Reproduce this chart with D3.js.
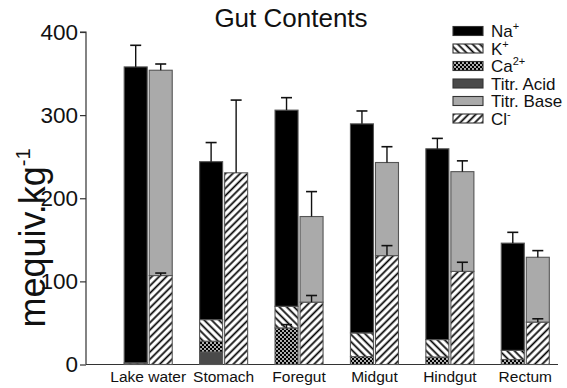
<!DOCTYPE html>
<html><head><meta charset="utf-8">
<script src="https://cdn.jsdelivr.net/npm/d3@7"></script>
<style>body{margin:0;background:#fff}svg{display:block;font-family:"Liberation Sans",Arial,Helvetica,sans-serif}</style>
</head><body>
<script>
const categories = ["Lake water","Stomach","Foregut","Midgut","Hindgut","Rectum"];
// Bar 1 (cations) stacked bottom->top
const titrAcid = [0, 15, 0, 0, 0, 0];
const ca       = [0.5, 13, 44, 9.5, 9, 6];
const k        = [1.5, 26, 26, 28.5, 21, 11];
const na       = [356, 190, 236, 251.5, 229.5, 129];
const caErr    = [0, 0, 4, 0, 0, 0];
const naErr    = [26, 23, 15, 15.5, 12.5, 13];
// Bar 2 (anions) stacked bottom->top
const cl       = [107, 230.6, 75, 131, 112, 51];
const titrBase = [247, 0, 103, 112, 120, 78];
const clErr    = [3, 87.5, 8, 12, 11, 4];
const baseErr  = [7.5, 0, 30, 19, 13, 8];
const yTicks = [0, 100, 200, 300, 400];
const legendItems = [["Na","+","na"],["K","+","k"],["Ca","2+","ca"],["Titr. Acid","","acid"],["Titr. Base","","base"],["Cl","-","cl"]];

const W = 567, H = 388;
const svg = d3.select("body").append("svg").attr("width", W).attr("height", H);
const defs = svg.append("defs");
function hatch(id, angle){
  const p = defs.append("pattern").attr("id", id).attr("patternUnits","userSpaceOnUse")
    .attr("width", 5.2).attr("height", 5.2).attr("patternTransform", `rotate(${angle})`);
  p.append("rect").attr("width",5.2).attr("height",5.2).attr("fill","#fff");
  p.append("line").attr("x1",1.3).attr("x2",1.3).attr("y1",0).attr("y2",5.2).attr("stroke","#000").attr("stroke-width",1.7);
}
hatch("pK", -45);
hatch("pCl", 45);
const pc = defs.append("pattern").attr("id","pCa").attr("patternUnits","userSpaceOnUse").attr("width",4).attr("height",4);
pc.append("rect").attr("width",4).attr("height",4).attr("fill","#000");
pc.append("circle").attr("cx",1).attr("cy",1).attr("r",0.9).attr("fill","#fff");
pc.append("circle").attr("cx",3).attr("cy",3).attr("r",0.9).attr("fill","#fff");

const fills = {na:"#000", k:"url(#pK)", ca:"url(#pCa)", acid:"#4a4a4a", base:"#aaaaaa", cl:"url(#pCl)"};

const y = d3.scaleLinear().domain([0,400]).range([364.5, 32]);
const x = d3.scaleBand().domain(categories).range([110.5, 563]).paddingInner(0.363).paddingOuter(0.1815);
const xs = d3.scaleBand().domain([0,1]).range([0, x.bandwidth()]).paddingInner(0.08);

// axes
const yAxis = d3.axisLeft(y).tickValues(yTicks).tickSize(6).tickPadding(2).tickFormat(d3.format("d"));
const gy = svg.append("g").attr("transform","translate(86,0)").call(yAxis);
gy.select(".domain").attr("stroke","#333").attr("stroke-width",1.2).attr("d", `M-6,${y(400)}H0V${y(0)}`);
gy.selectAll(".tick line").attr("stroke","#333").attr("stroke-width",1.2);
gy.selectAll(".tick text").attr("font-size",22.5).attr("fill","#111").attr("font-family","Liberation Sans, Arial, sans-serif");

const gx = svg.append("g").attr("transform",`translate(0,${y(0)})`)
  .call(d3.axisBottom(x).tickSize(0).tickPadding(6));
gx.select(".domain").attr("stroke","#333").attr("stroke-width",1.2).attr("d", `M86,0H558`);
gx.selectAll(".tick text").attr("font-size",15.5).attr("fill","#111").attr("font-family","Liberation Sans, Arial, sans-serif");

// bars
function drawStack(idx, layers, errs){
  categories.forEach((c,i)=>{
    let base = 0;
    const x0 = x(c) + xs(idx), w = xs.bandwidth();
    const tops = [];
    layers.forEach(([arr,key])=>{
      const v = arr[i];
      if (v > 0){
        svg.append("rect").attr("x",x0).attr("width",w)
          .attr("y", y(base+v)).attr("height", y(base)-y(base+v))
          .attr("fill", fills[key]).attr("stroke","#555").attr("stroke-width",1.1);
      }
      base += v;
      tops.push(base);
    });
    errs.forEach(([arr,li])=>{
      const e = arr[i];
      if (e > 0){
        const t = tops[li], cx = x0 + w/2;
        svg.append("line").attr("x1",cx).attr("x2",cx).attr("y1",y(t)).attr("y2",y(t+e)).attr("stroke","#111").attr("stroke-width",1.4);
        svg.append("line").attr("x1",cx-5.5).attr("x2",cx+5.5).attr("y1",y(t+e)).attr("y2",y(t+e)).attr("stroke","#111").attr("stroke-width",1.6);
      }
    });
  });
}
drawStack(0, [[titrAcid,"acid"],[ca,"ca"],[k,"k"],[na,"na"]], [[caErr,1],[naErr,3]]);
drawStack(1, [[cl,"cl"],[titrBase,"base"]], [[clErr,0],[baseErr,1]]);

// title
svg.append("text").attr("x",291).attr("y",27).attr("text-anchor","middle").attr("font-size",26).attr("fill","#111").text("Gut Contents");

// y label
const yl = svg.append("text").attr("transform","translate(45,238) rotate(-90)").attr("text-anchor","middle").attr("font-size",36).attr("fill","#111");
yl.append("tspan").text("mequiv.kg");
yl.append("tspan").attr("font-size",20).attr("dy",-15).text("-1");

// legend
const lg = svg.append("g");
legendItems.forEach((d,i)=>{
  const cy = 31 + i*17.5;
  lg.append("rect").attr("x",453).attr("y",cy-4.5).attr("width",30).attr("height",9).attr("fill",fills[d[2]]).attr("stroke","#333").attr("stroke-width",1.1);
  const t = lg.append("text").attr("x",491).attr("y",cy+6).attr("font-size",17).attr("fill","#111");
  t.append("tspan").text(d[0]);
  if (d[1]) t.append("tspan").attr("font-size",11).attr("dy",-7).text(d[1]);
});
</script>
</body></html>
